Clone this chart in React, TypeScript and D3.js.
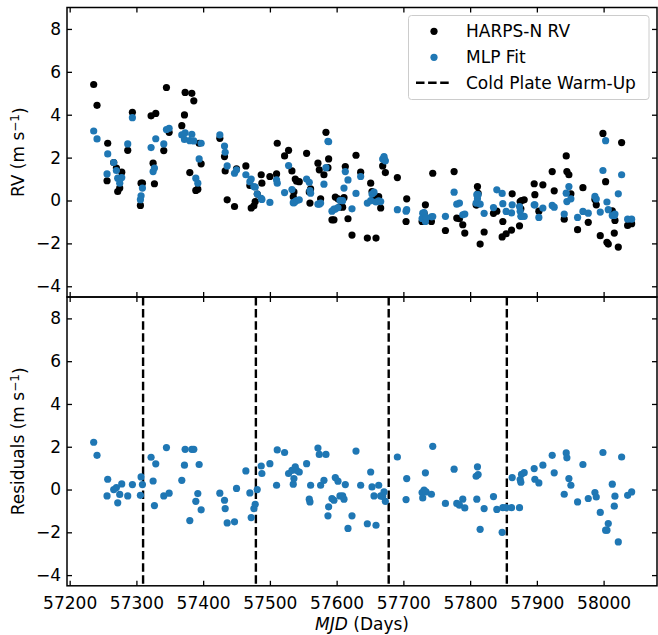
import React, { useEffect, useRef } from 'react';
import * as d3 from 'd3';

// observation dates (MJD)
const mjd = [
  57236, 57241, 57256, 57257, 57266, 57270, 57272, 57275, 57278, 57287,
  57294, 57306, 57307, 57309, 57322, 57325, 57327, 57329, 57341, 57345,
  57349, 57368, 57372, 57373, 57380, 57383, 57386, 57389, 57392, 57394,
  57397, 57425, 57432, 57433, 57436, 57447, 57450, 57464, 57470, 57472,
  57476, 57478, 57481, 57487, 57488, 57500, 57510, 57511, 57522, 57528,
  57533, 57535, 57536, 57538, 57540, 57544, 57555, 57559, 57560, 57561,
  57572, 57574, 57576, 57581, 57584, 57587, 57588, 57593, 57596, 57598,
  57602, 57605, 57609, 57611, 57613, 57617, 57623, 57629, 57636, 57646,
  57651, 57653, 57656, 57659, 57663, 57666, 57669, 57671, 57673, 57691,
  57704, 57705, 57728, 57729, 57731, 57733, 57734, 57742, 57744, 57763,
  57776, 57780, 57784, 57789, 57792, 57809, 57810, 57811, 57812, 57815,
  57821, 57835, 57840, 57848, 57849, 57854, 57862, 57863, 57874, 57875,
  57876, 57877, 57881, 57896, 57897, 57903, 57909, 57923, 57926, 57941,
  57944, 57945, 57948, 57951, 57961, 57969, 57977, 57987, 57989, 57995,
  57999, 58003, 58005, 58007, 58013, 58016, 58017, 58022, 58027, 58036,
  58042,
];

// HARPS-N radial velocities (m/s)
const rvHarps = [
  5.41, 4.44, 0.92, 2.67, 1.77, 1.51, 0.42, 0.58, 1.32, 2.34,
  4.11, -0.23, 0.81, 0.81, 3.95, 1.74, 0.78, 4.06, 2.33, 5.27,
  3.18, 3.49, 3.99, 5.04, 1.30, 5.00, 4.65, 0.47, 0.53, 2.67,
  1.71, 2.90, 2.05, 1.38, 0.03, -0.28, 1.48, 1.61, 0.70, -0.35,
  -0.25, -0.05, 0.30, 1.20, 0.81, 1.12, 1.24, 2.67, 2.08, 2.34,
  1.38, 0.17, 0.40, 1.00, 0.90, 0.88, 2.20, 0.40, -0.12, 0.54,
  1.74, 1.43, 0.08, 1.20, 3.18, 1.53, 1.94, -0.90, -0.90, 0.16,
  0.08, -0.30, -0.31, 0.13, 1.58, -0.85, -1.61, 2.11, 1.32, -1.75,
  0.81, 0.42, 0.09, -1.75, 0.18, -0.35, 1.61, 1.94, 1.30, 1.07,
  -0.98, 0.08, -0.98, -0.98, -0.60, -0.20, -0.90, -0.98, 1.27, -1.40,
  1.35, -0.82, -0.85, -1.13, -1.52, -0.20, -0.20, 0.65, 0.33, -2.03,
  -1.47, -0.60, -0.50, -1.70, -0.98, -1.55, -1.38, 0.31, -1.18, -0.05,
  -0.39, 0.00, 0.03, 0.78, 0.27, -0.50, 0.73, 1.35, 0.45, -0.87,
  2.08, 1.35, 1.20, 0.31, -1.36, 0.60, -1.02, 0.05, -0.20, -1.64,
  3.13, 0.88, -1.95, -2.03, -0.48, -1.52, -0.93, -2.17, 2.70, -1.16,
  -1.08,
];

// MLP fit (m/s)
const mlpFit = [
  3.24, 2.87, 1.24, 2.17, 1.77, 1.40, 1.04, 0.81, 1.07, 2.64,
  3.86, 0.04, 0.22, 0.58, 2.47, 1.35, 1.51, 2.88, 2.64, 3.31,
  3.37, 3.06, 2.85, 3.16, 2.79, 3.09, 2.78, 1.04, 0.81, 1.94,
  2.67, 3.06, 2.54, 2.25, 1.61, 1.27, 1.43, 1.20, 0.88, 1.00,
  0.65, 0.62, 0.30, 0.10, 0.05, -0.09, 0.96, 0.81, 0.37, 1.63,
  0.51, -0.10, -0.10, -0.05, 0.00, 0.03, 1.00, 0.85, 0.46, 0.34,
  -0.17, -0.17, -0.12, 0.76, 1.53, 2.76, 2.74, -0.50, -0.40, -0.40,
  -0.33, 0.00, -0.01, 0.58, 1.35, 0.96, -0.39, 0.33, 1.12, -0.12,
  -0.01, 0.30, 0.39, -0.07, -0.02, -0.05, 1.93, 2.05, 1.85, -0.43,
  -0.50, -0.43, -0.84, -0.59, -0.57, -0.98, -0.80, -0.76, -0.75, -0.74,
  0.39, -0.17, -0.12, -0.67, -0.63, -0.12, 0.27, 0.08, 0.27, -0.17,
  -0.60, -0.33, 0.50, 0.33, -0.15, -0.51, -0.58, -0.20, -0.28, -0.50,
  -0.74, -0.74, -0.74, -0.20, -0.20, -0.79, -0.35, -0.23, -0.31, -0.63,
  0.34, -0.05, 0.65, 0.08, -0.79, -0.51, -0.59, 0.19, 0.07, -0.54,
  1.40, 2.79, -0.07, -0.43, -0.70, -0.70, -0.63, 0.31, 1.20, -0.87,
  -0.87,
];

// residuals (m/s)
const residuals = [
  2.21, 1.60, -0.30, 0.48, 0.00, 0.09, -0.62, -0.23, 0.26, -0.30,
  0.23, -0.27, 0.59, 0.23, 1.51, 0.40, -0.75, 1.20, -0.30, 1.96,
  -0.17, 0.43, 1.14, 1.88, -1.45, 1.88, 1.88, -0.55, -0.19, 1.17,
  -0.95, -0.17, -0.50, -0.89, -1.56, -1.51, 0.05, 0.87, -0.16, -1.31,
  -0.89, -0.69, 0.00, 1.10, 0.75, 1.21, 0.20, 1.85, 1.73, 0.75,
  0.90, 0.25, 0.51, 1.06, 0.90, 0.82, 1.21, -0.45, -0.58, 0.20,
  1.94, 1.64, 0.20, 0.43, 1.64, -1.23, -0.81, -0.42, -0.50, 0.56,
  0.39, -0.30, -0.30, -0.45, 0.23, -1.82, -1.23, 1.80, 0.20, -1.60,
  0.82, 0.12, -0.30, -1.67, 0.20, -0.30, -0.32, -0.11, -0.55, 1.52,
  -0.47, 0.51, -0.14, -0.39, -0.03, 0.78, -0.11, -0.22, 2.02, -0.65,
  0.95, -0.65, -0.73, -0.45, -0.86, 0.62, -0.45, 1.06, 0.70, -1.86,
  -0.89, -0.33, -0.93, -2.00, -0.85, -0.85, -0.85, 0.56, -0.85, 0.47,
  0.34, 0.71, 0.79, 0.98, 0.48, 0.31, 1.14, 1.60, 0.78, -0.22,
  1.71, 1.48, 0.51, 0.20, -0.58, 1.17, -0.42, -0.14, -0.35, -1.07,
  1.73, -1.90, -1.90, -1.59, 0.25, -0.78, -0.31, -2.45, 1.52, -0.27,
  -0.11,
];

const warmUps = [57310, 57479, 57678, 57855];
const xTicks = [57200, 57300, 57400, 57500, 57600, 57700, 57800, 57900, 58000];
const yTicks = [-4, -2, 0, 2, 4, 6, 8];

const blue = '#1f77b4';
const font = '"DejaVu Sans", sans-serif';
const fmt = (v: number) => (v < 0 ? '\u2212' + Math.abs(v) : String(v));

export default function App() {
  const ref = useRef<SVGSVGElement>(null);

  useEffect(() => {
    const svg = d3.select(ref.current);
    svg.selectAll('*').remove();

    const left = 67, right = 657;
    const x = d3.scaleLinear().domain([57196, 58080]).range([left, right]);
    const yTop = d3.scaleLinear().domain([-4.5, 9]).range([297, 7.5]);
    const yBot = d3.scaleLinear().domain([-4.5, 9]).range([585.8, 297]);

    const styleAxis = (g: any) => {
      g.select('.domain').remove();
      g.selectAll('line').attr('stroke', '#000').attr('stroke-width', 1.3);
      g.selectAll('text').attr('fill', '#000').style('font-family', font).style('font-size', '17px');
    };

    const panel = (y: d3.ScaleLinear<number, number>, bottomLabels: boolean) => {
      const [y0, y1] = y.range();
      // ticks on all four sides, pointing in
      svg.append('g').attr('transform', `translate(${left},0)`)
        .call(d3.axisLeft(y).tickValues(yTicks).tickSize(-5).tickSizeOuter(0).tickPadding(6).tickFormat((d: any) => fmt(d)))
        .call(styleAxis);
      svg.append('g').attr('transform', `translate(${right},0)`)
        .call(d3.axisRight(y).tickValues(yTicks).tickSize(-5).tickSizeOuter(0).tickFormat(() => ''))
        .call(styleAxis);
      svg.append('g').attr('transform', `translate(0,${y1})`)
        .call(d3.axisTop(x).tickValues(xTicks).tickSize(-5).tickSizeOuter(0).tickFormat(() => ''))
        .call(styleAxis);
      svg.append('g').attr('transform', `translate(0,${y0})`)
        .call(d3.axisBottom(x).tickValues(xTicks).tickSize(-5).tickSizeOuter(0).tickPadding(11.5)
          .tickFormat((d: any) => (bottomLabels ? String(d) : '')))
        .call(styleAxis);
    };

    // top panel: data + fit
    svg.append('g').selectAll('circle').data(mjd).enter().append('circle')
      .attr('cx', d => x(d)).attr('cy', (_, i) => yTop(rvHarps[i])).attr('r', 3.6).attr('fill', '#000');
    svg.append('g').selectAll('circle').data(mjd).enter().append('circle')
      .attr('cx', d => x(d)).attr('cy', (_, i) => yTop(mlpFit[i])).attr('r', 3.6).attr('fill', blue);

    // bottom panel: warm-up lines + residuals
    svg.append('g').selectAll('line').data(warmUps).enter().append('line')
      .attr('x1', d => x(d)).attr('x2', d => x(d)).attr('y1', 297).attr('y2', 585.8)
      .attr('stroke', '#000').attr('stroke-width', 2.4).attr('stroke-dasharray', '8.5,3.6');
    svg.append('g').selectAll('circle').data(mjd).enter().append('circle')
      .attr('cx', d => x(d)).attr('cy', (_, i) => yBot(residuals[i])).attr('r', 3.6).attr('fill', blue);

    panel(yTop, false);
    panel(yBot, true);

    // frames
    [[7.5, 297], [297, 585.8]].forEach(([a, b]) => {
      svg.append('rect').attr('x', left).attr('y', a).attr('width', right - left).attr('height', b - a)
        .attr('fill', 'none').attr('stroke', '#000').attr('stroke-width', 1.5);
    });

    // axis labels
    const xl = svg.append('text').attr('x', (left + right) / 2).attr('y', 629.5).attr('text-anchor', 'middle')
      .style('font-family', font).style('font-size', '17px');
    xl.append('tspan').attr('font-style', 'italic').text('MJD');
    xl.append('tspan').text(' (Days)');

    const ylab = (cy: number, label: string) => {
      const t = svg.append('text').attr('transform', `translate(18,${cy}) rotate(-90)`).attr('text-anchor', 'middle')
        .style('font-family', font).style('font-size', '17px').attr('dy', '0.35em');
      t.append('tspan').text(label + ' (m s');
      t.append('tspan').attr('dy', '-0.45em').style('font-size', '12px').text('\u22121');
      t.append('tspan').attr('dy', '0.45em').text(')');
    };
    ylab((7.5 + 297) / 2, 'RV');
    ylab((297 + 585.8) / 2, 'Residuals');

    // legend
    const lg = svg.append('g');
    lg.append('rect').attr('x', 408.5).attr('y', 15.5).attr('width', 240.5).attr('height', 84).attr('rx', 3)
      .attr('fill', 'rgba(255,255,255,0.8)').attr('stroke', '#cccccc').attr('stroke-width', 1);
    lg.append('circle').attr('cx', 434).attr('cy', 31.3).attr('r', 3.6).attr('fill', '#000');
    lg.append('circle').attr('cx', 434).attr('cy', 57.3).attr('r', 3.6).attr('fill', blue);
    lg.append('line').attr('x1', 416).attr('x2', 450).attr('y1', 82.7).attr('y2', 82.7)
      .attr('stroke', '#000').attr('stroke-width', 2.4).attr('stroke-dasharray', '8.5,3.6');
    [['HARPS-N RV', 31.3], ['MLP Fit', 57.3], ['Cold Plate Warm-Up', 82.7]].forEach(([s, yy]) => {
      lg.append('text').attr('x', 466).attr('y', (yy as number) + 6).text(s as string)
        .style('font-family', font).style('font-size', '17px');
    });
  }, []);

  return <svg ref={ref} width={658} height={635} style={{ position: 'absolute', left: 0, top: 0, background: '#fff' }} />;
}
